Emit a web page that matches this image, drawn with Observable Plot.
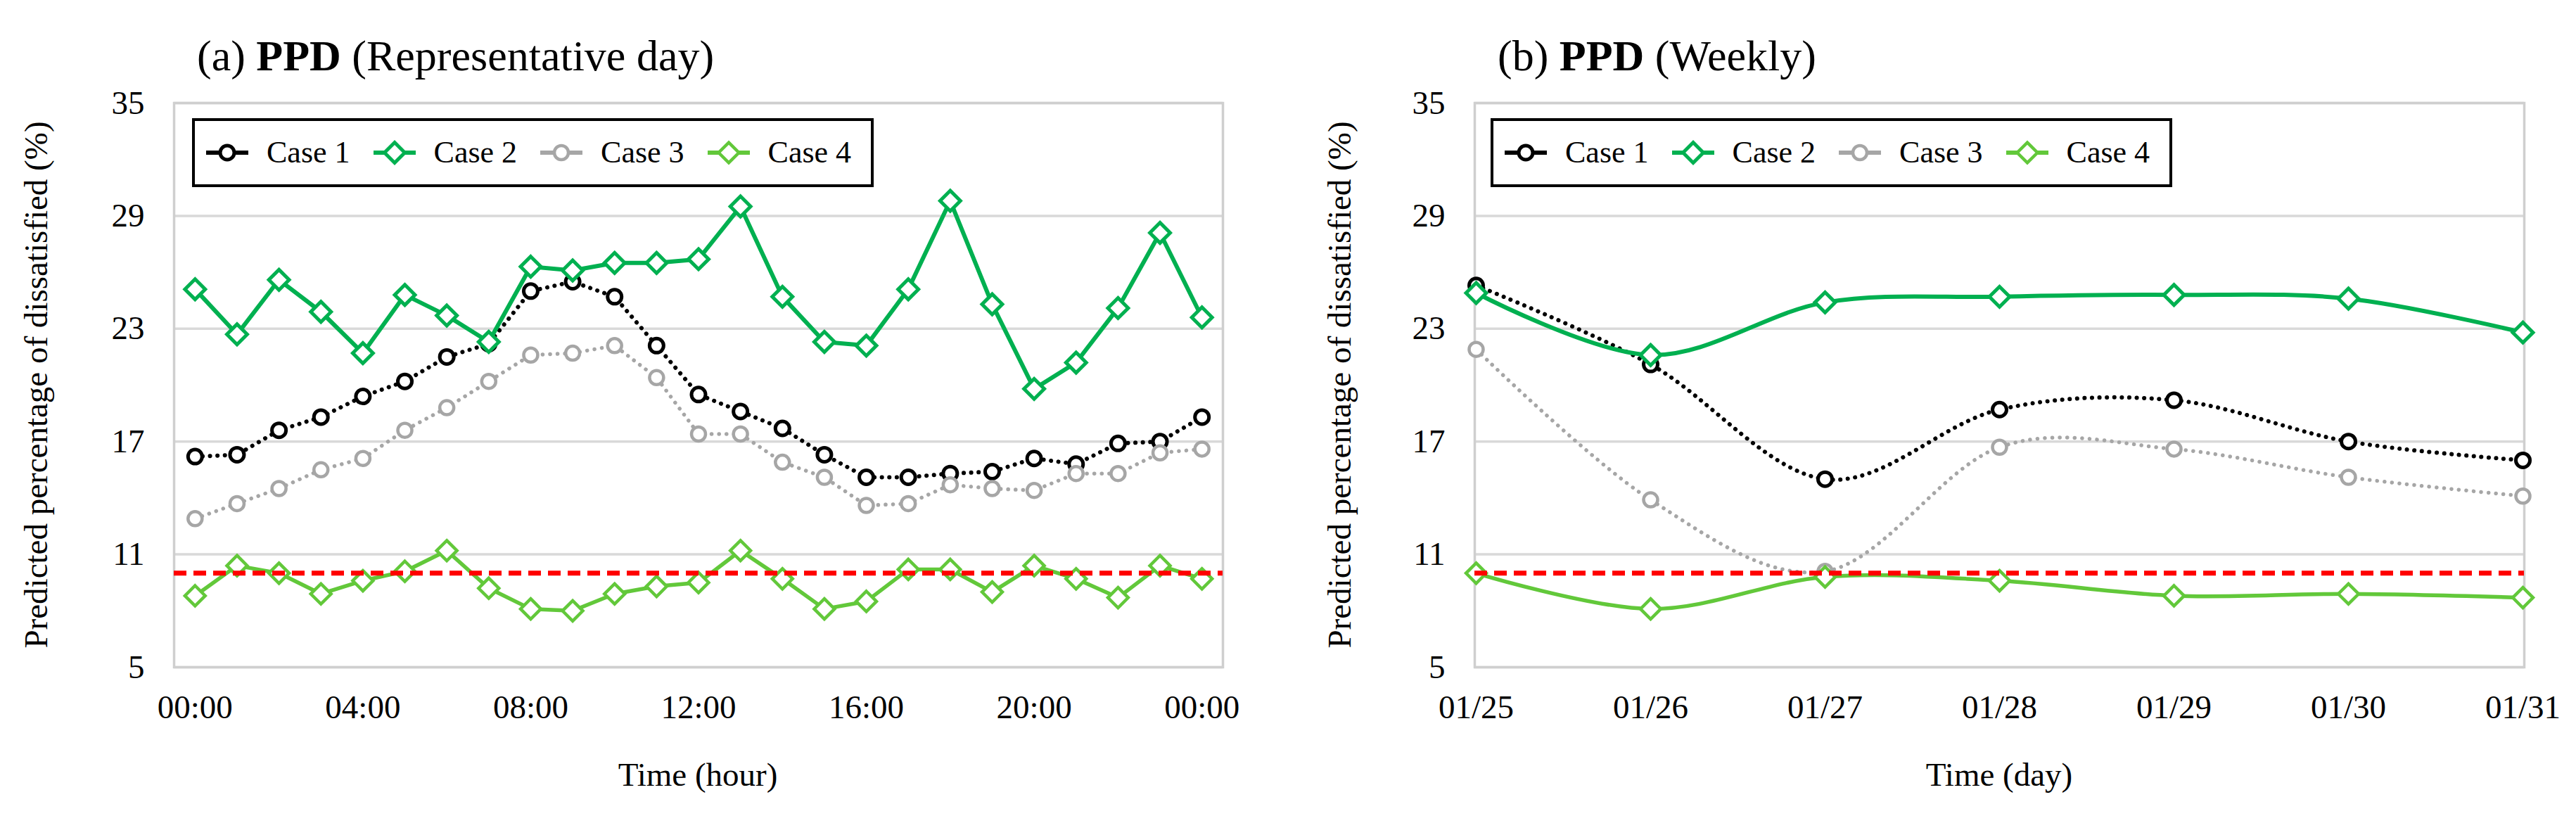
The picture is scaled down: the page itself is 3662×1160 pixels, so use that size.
<!DOCTYPE html>
<html>
<head>
<meta charset="utf-8">
<script src="https://cdn.jsdelivr.net/npm/d3@7"></script>
<script src="https://cdn.jsdelivr.net/npm/@observablehq/plot@0.6"></script>
<style>
  html, body { margin: 0; padding: 0; background: #fff; }
  #root { position: relative; width: 3662px; height: 1160px; overflow: hidden;
          font-family: "Liberation Serif", "Times New Roman", serif; color: #000; background: #fff; }
  .title { position: absolute; font-size: 62px; line-height: 62px; white-space: nowrap; }
  .title b { font-weight: bold; }
  .ylab { position: absolute; font-size: 47px; line-height: 47px; white-space: nowrap;
          transform: translate(-50%, -50%) rotate(-90deg); transform-origin: center center; }
  .xlab { position: absolute; font-size: 47px; line-height: 47px; white-space: nowrap;
          transform: translateX(-50%); }
  .legend { position: absolute; box-sizing: border-box; width: 969px; height: 98px;
            border: 4px solid #000; background: #fff; display: flex; align-items: center;
            padding-left: 16px; font-size: 44px; line-height: 44px; white-space: nowrap; }
  .legend .item { display: flex; align-items: center; margin-right: 33px; }
  .legend .item svg { display: block; }
  .legend .item span { margin-left: 26px; }
</style>
</head>
<body>
<div id="root"></div>
<script>
// ---------- data ----------
const caseNames = ["Case 1", "Case 2", "Case 3", "Case 4"];

// (a) representative day, hourly 00:00 .. 24:00
const hours = [0,1,2,3,4,5,6,7,8,9,10,11,12,13,14,15,16,17,18,19,20,21,22,23,24];
const hourTicks = [0, 4, 8, 12, 16, 20, 24];
const hourTickLabels = ["00:00", "04:00", "08:00", "12:00", "16:00", "20:00", "00:00"];
const dayCase1 = [16.2, 16.3, 17.6, 18.3, 19.4, 20.2, 21.5, 22.2, 25.0, 25.5, 24.7, 22.1, 19.5, 18.6, 17.7, 16.3, 15.1, 15.1, 15.3, 15.4, 16.1, 15.8, 16.9, 17.0, 18.3];
const dayCase2 = [25.1, 22.7, 25.6, 23.9, 21.7, 24.8, 23.7, 22.3, 26.3, 26.1, 26.5, 26.5, 26.7, 29.5, 24.7, 22.3, 22.1, 25.1, 29.8, 24.3, 19.8, 21.2, 24.1, 28.1, 23.6];
const dayCase3 = [12.9, 13.7, 14.5, 15.5, 16.1, 17.6, 18.8, 20.2, 21.6, 21.7, 22.1, 20.4, 17.4, 17.4, 15.9, 15.1, 13.6, 13.7, 14.7, 14.5, 14.4, 15.3, 15.3, 16.4, 16.6];
const dayCase4 = [8.8, 10.4, 10.0, 8.9, 9.6, 10.1, 11.2, 9.2, 8.1, 8.0, 8.9, 9.3, 9.5, 11.2, 9.7, 8.1, 8.5, 10.2, 10.2, 9.0, 10.4, 9.7, 8.7, 10.4, 9.7];

// (b) weekly, daily values
const days = ["01/25", "01/26", "01/27", "01/28", "01/29", "01/30", "01/31"];
const weekCase1 = [25.3, 21.1, 15.0, 18.7, 19.2, 17.0, 16.0];
const weekCase2 = [24.9, 21.6, 24.4, 24.7, 24.8, 24.6, 22.8];
const weekCase3 = [21.9, 13.9, 10.1, 16.7, 16.6, 15.1, 14.1];
const weekCase4 = [10.0, 8.1, 9.8, 9.6, 8.8, 8.9, 8.7];

const yTicks = [5, 11, 17, 23, 29, 35];
const threshold = 10;

// ---------- styles ----------
const styles = {
  "Case 1": {color: "#000000", dash: "0.1 10.5", width: 6, symbol: "circle", r: 10, sw: 5},
  "Case 2": {color: "#00B050", dash: null, width: 6, symbol: "diamond2", r: 13, sw: 5},
  "Case 3": {color: "#A6A6A6", dash: "0.1 10.5", width: 5.5, symbol: "circle", r: 10, sw: 4.5},
  "Case 4": {color: "#62C83A", dash: null, width: 5.5, symbol: "diamond2", r: 13, sw: 4.5}
};

function rowsFor(xs, seriesList) {
  const out = [];
  seriesList.forEach((vals, i) => {
    vals.forEach((v, j) => out.push({x: xs[j], y: v, c: caseNames[i]}));
  });
  return out;
}
const dayRows = rowsFor(hours, [dayCase1, dayCase2, dayCase3, dayCase4]);
const weekRows = rowsFor(days, [weekCase1, weekCase2, weekCase3, weekCase4]);

function seriesMarks(rows, curve) {
  const marks = [];
  for (const name of caseNames) {
    const s = styles[name];
    const data = rows.filter(d => d.c === name);
    marks.push(Plot.line(data, {
      x: "x", y: "y", stroke: s.color, strokeWidth: s.width, curve,
      strokeDasharray: s.dash || undefined, strokeLinecap: s.dash ? "round" : "butt",
      strokeLinejoin: "round"
    }));
  }
  for (const name of caseNames) {
    const s = styles[name];
    const data = rows.filter(d => d.c === name);
    marks.push(Plot.dot(data, {
      x: "x", y: "y", symbol: () => s.symbol, r: s.r, fill: "#ffffff",
      stroke: s.color, strokeWidth: s.sw
    }));
  }
  return marks;
}

const common = {
  width: 1831, height: 1160, marginTop: 146, marginBottom: 212,
  style: {fontFamily: "'Liberation Serif', 'Times New Roman', serif", fontSize: "47px",
          color: "#000", background: "transparent", overflow: "visible"},
  y: {domain: [5, 35]}
};

function baseMarks() {
  return [
    Plot.gridY(yTicks, {stroke: "#D9D9D9", strokeOpacity: 1, strokeWidth: 3.5}),
    Plot.frame({stroke: "#CFCFCF", strokeWidth: 3.5}),
    Plot.axisY({ticks: yTicks, tickSize: 0, tickPadding: 42, label: null})
  ];
}

const plotA = Plot.plot({
  ...common,
  marginLeft: 247, marginRight: 93,
  x: {type: "linear", domain: [-0.5, 24.5]},
  marks: [
    ...baseMarks(),
    Plot.axisX({ticks: hourTicks, tickSize: 0, tickPadding: 39, label: null,
                tickFormat: d => hourTickLabels[hourTicks.indexOf(d)]}),
    ...seriesMarks(dayRows, "linear"),
    Plot.ruleY([threshold], {stroke: "#FF0000", strokeWidth: 7, strokeDasharray: "18 10"})
  ]
});

const plotB = Plot.plot({
  ...common,
  marginLeft: 265, marginRight: 74,
  x: {type: "point", domain: days, padding: 0},
  marks: [
    ...baseMarks(),
    Plot.axisX({tickSize: 0, tickPadding: 39, label: null}),
    ...seriesMarks(weekRows, d3.curveCardinal.tension(0)),
    Plot.ruleY([threshold], {stroke: "#FF0000", strokeWidth: 7, strokeDasharray: "18 10"})
  ]
});

const root = document.getElementById("root");
for (const [p, left] of [[plotA, 0], [plotB, 1831]]) {
  p.style.position = "absolute";
  p.style.left = left + "px";
  p.style.top = "0px";
  root.appendChild(p);
}

function addDiv(cls, html, css) {
  const d = document.createElement("div");
  d.className = cls;
  d.innerHTML = html;
  Object.assign(d.style, css);
  root.appendChild(d);
  return d;
}

// titles
addDiv("title", "(a) <b>PPD</b> (Representative day)", {left: "280px", top: "48px"});
addDiv("title", "(b) <b>PPD</b> (Weekly)", {left: "2129px", top: "48px"});

// axis titles
const yLabel = "Predicted percentage of dissatisfied (%)";
addDiv("ylab", yLabel, {left: "51px", top: "547px"});
addDiv("ylab", yLabel, {left: "1904px", top: "547px"});
addDiv("xlab", "Time (hour)", {left: "992px", top: "1078px"});
addDiv("xlab", "Time (day)", {left: "2842px", top: "1078px"});

// legends
function legend(left) {
  const box = addDiv("legend", "", {left: left + "px", top: "168px"});
  for (const name of caseNames) {
    const s = styles[name];
    const item = document.createElement("div");
    item.className = "item";
    const svg = d3.create("svg").attr("width", 60).attr("height", 44);
    svg.append("line").attr("x1", 0).attr("x2", 60).attr("y1", 22).attr("y2", 22)
      .attr("stroke", s.color).attr("stroke-width", 6);
    const sym = s.symbol === "circle" ? d3.symbolCircle : d3.symbolDiamond2;
    svg.append("path").attr("transform", "translate(30,22)")
      .attr("d", d3.symbol(sym, Math.PI * s.r * s.r)())
      .attr("fill", "#fff").attr("stroke", s.color).attr("stroke-width", s.sw);
    item.appendChild(svg.node());
    const t = document.createElement("span");
    t.textContent = name;
    item.appendChild(t);
    box.appendChild(item);
  }
}
legend(273);
legend(2119);
</script>
</body>
</html>
